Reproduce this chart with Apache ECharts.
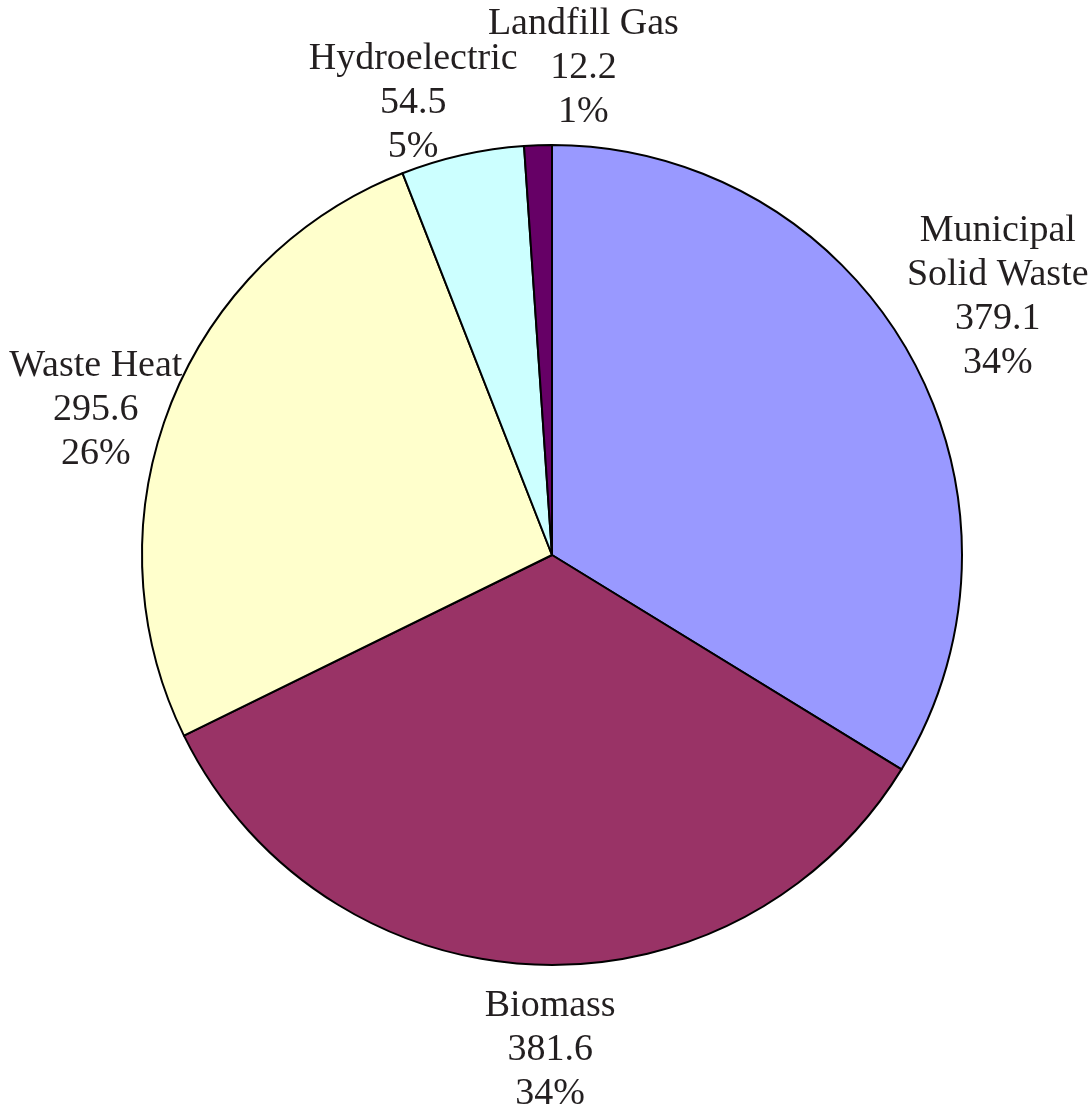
<!DOCTYPE html>
<html>
<head>
<meta charset="utf-8">
<style>
  html, body { margin: 0; padding: 0; background: #ffffff; }
  #chart { width: 1092px; height: 1108px; }
</style>
<script src="https://cdn.jsdelivr.net/npm/echarts@6/dist/echarts.min.js"></script>
</head>
<body>
<div id="chart"></div>
<script>
// ---- data ----
const categories = ['Municipal\nSolid Waste', 'Biomass', 'Waste Heat', 'Hydroelectric', 'Landfill Gas'];
const values = [379.1, 381.6, 295.6, 54.5, 12.2];
const sliceColors = ['#9999FF', '#993366', '#FFFFCC', '#CCFFFF', '#660066'];

// ---- layout ----
const CX = 552, CY = 555, R = 410, GAP = 10;
// small per-label nudges (Excel-like overlap avoidance)
const labelNudge = [[0, -10], [21, 10], [16, 31], [-24, 22], [49, -1]];

const total = values.reduce((a, b) => a + b, 0);
const midAngles = [];
{
  let acc = 0;
  for (const v of values) {
    midAngles.push((acc + v / 2) / total * 2 * Math.PI);
    acc += v;
  }
}

const chart = echarts.init(document.getElementById('chart'), null, { renderer: 'canvas' });
chart.setOption({
  animation: false,
  backgroundColor: '#ffffff',
  series: [{
    type: 'pie',
    center: [CX, CY],
    radius: [0, R],
    startAngle: 90,
    clockwise: true,
    percentPrecision: 0,
    avoidLabelOverlap: false,
    silent: true,
    data: categories.map((c, i) => ({
      name: c,
      value: values[i],
      itemStyle: { color: sliceColors[i] }
    })),
    itemStyle: { borderColor: '#000000', borderWidth: 2 },
    label: {
      show: true,
      position: 'outside',
      formatter: '{b}\n{c}\n{d}%',
      fontFamily: '"Liberation Serif", "Times New Roman", serif',
      fontSize: 38,
      lineHeight: 44,
      color: '#231f20',
      align: 'center'
    },
    labelLine: { show: false },
    labelLayout: function (p) {
      const i = p.dataIndex;
      const a = midAngles[i];
      const dx = Math.sin(a), dy = -Math.cos(a);
      const w = p.labelRect.width, h = p.labelRect.height;
      const ax = CX + (R + GAP) * dx, ay = CY + (R + GAP) * dy;
      return {
        x: ax + dx * w / 2 + labelNudge[i][0],
        y: ay + dy * h / 2 + labelNudge[i][1],
        align: 'center',
        verticalAlign: 'middle'
      };
    }
  }]
});
</script>
</body>
</html>
